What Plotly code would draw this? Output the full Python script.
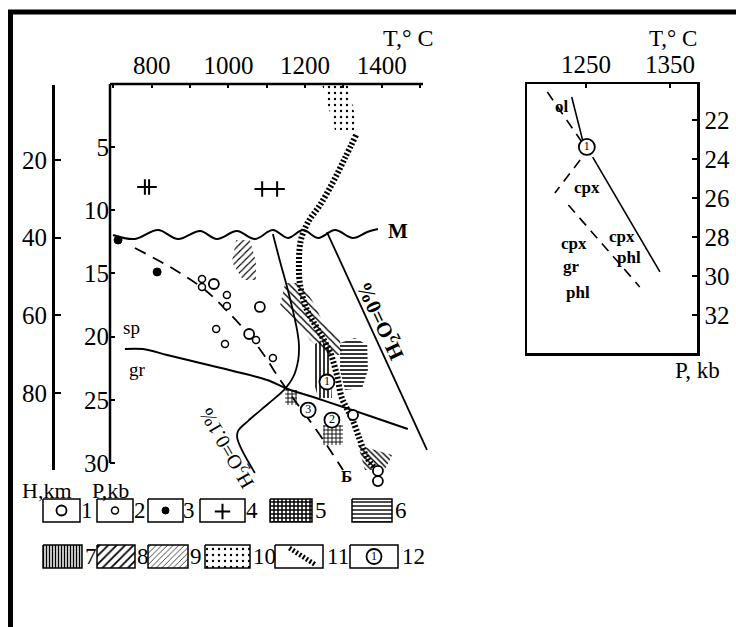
import plotly.graph_objects as go

W, H = 736, 627
SERIF = "Liberation Serif, Times New Roman, serif"

# ---------------- data: main T-P diagram ----------------
T_ticks = [700, 800, 900, 1000, 1100, 1200, 1300, 1400, 1500]
T_tick_text = ["", "800", "", "1000", "", "1200", "", "1400", ""]
P_ticks = [5, 10, 15, 20, 25, 30]
H_ticks = [0.7, 20, 40, 60, 80, 99.8]
H_tick_text = ["", "20", "40", "60", "80", ""]

moho_T = [699, 756, 816, 869, 926, 970, 1022, 1069, 1116, 1155, 1195, 1234, 1278, 1325, 1362, 1390]
moho_P = [11.95, 12.27, 11.56, 12.27, 11.64, 12.27, 11.64, 12.27, 11.56, 12.19, 11.56, 12.19, 11.56, 12.19, 11.72, 11.48]

spgr_T = [730, 777, 840, 926, 1012, 1101, 1155, 1221, 1299, 1369, 1468]
spgr_P = [20.98, 20.98, 21.45, 22.09, 22.72, 23.43, 24.14, 24.78, 25.57, 26.28, 27.31]

h2o01_T = [1116, 1135, 1155, 1179, 1184, 1182, 1169, 1145, 1103, 1051, 1025, 1023, 1035, 1069]
h2o01_P = [11.87, 14.09, 16.31, 19.47, 20.66, 21.85, 23.19, 24.22, 25.33, 26.68, 27.47, 28.02, 28.97, 30.79]

h2o0_T = [1257, 1518]
h2o0_P = [11.72, 28.97]

dash_T = [756, 861, 939, 999, 1056, 1098, 1135, 1176, 1226, 1265, 1299]
dash_P = [12.98, 14.72, 16.31, 18.05, 19.95, 21.69, 23.43, 25.17, 27.23, 28.97, 30.56]

band_T = [1333, 1304, 1273, 1239, 1208, 1189, 1184, 1187, 1205, 1234, 1265, 1283, 1296, 1322, 1343, 1362, 1382]
band_P = [4.04, 5.86, 7.76, 9.58, 10.92, 12.35, 14.09, 15.91, 17.89, 19.47, 21.22, 23.04, 24.86, 26.44, 28.18, 29.61, 30.40]

reg10_T = [1244, 1312, 1338, 1278]
reg10_P = [0.0, 0.0, 3.64, 3.64]
reg9_T = [1020, 1056, 1072, 1072, 1038, 1009]
reg9_P = [12.35, 12.35, 14.09, 15.52, 15.52, 14.09]
reg8_T = [1148, 1187, 1218, 1244, 1291, 1296, 1260, 1213, 1174, 1135]
reg8_P = [15.75, 15.75, 17.10, 18.68, 20.26, 21.45, 21.45, 20.26, 18.68, 17.49]
reg8b_T = [1338, 1427, 1408, 1356]
reg8b_P = [28.58, 29.37, 30.56, 30.56]
reg7_T = [1221, 1244, 1265, 1270, 1234, 1221]
reg7_P = [20.66, 20.26, 21.06, 24.86, 24.86, 23.43]
reg6_T = [1291, 1330, 1362, 1364, 1349, 1304, 1291]
reg6_P = [20.50, 20.11, 20.66, 22.64, 24.06, 24.22, 22.64]
reg5a_T = [1247, 1299, 1299, 1247]
reg5a_P = [26.99, 26.99, 28.58, 28.58]
reg5b_T = [1148, 1179, 1179, 1148]
reg5b_P = [24.22, 24.22, 25.41, 25.41]

pts1_T = [962, 1082, 1054, 1325, 1390, 1390]
pts1_P = [15.83, 17.65, 19.79, 26.20, 30.63, 31.43]
pts2_T = [931, 931, 996, 996, 968, 991, 1072, 1116]
pts2_P = [15.44, 16.07, 16.70, 17.57, 19.39, 20.58, 20.26, 21.69]
pts3_T = [712, 814]
pts3_P = [12.35, 14.88]
pts4_T = [782, 793, 1088, 1127]
pts4_P = [8.15, 8.15, 8.31, 8.31]
num_T = [1257, 1270, 1208]
num_P = [23.59, 26.60, 25.81]
num_lab = ["1", "2", "3"]

# ---------------- data: inset ----------------
ins_T_ticks = [1250, 1350]
ins_P_ticks = [22, 24, 26, 28, 30, 32]
ins_ol_dash_T = [1204, 1246]
ins_ol_dash_P = [20.56, 23.18]
ins_ol_solid_T = [1233, 1246]
ins_ol_solid_P = [20.82, 23.03]
ins_main_T = [1258, 1338]
ins_main_P = [23.90, 29.79]
ins_dash1_T = [1243, 1213]
ins_dash1_P = [24.05, 25.74]
ins_dash2_T = [1229, 1314]
ins_dash2_P = [26.36, 30.56]
ins_pt_T = [1251]
ins_pt_P = [23.38]
ins_lab = ["ol", "cpx", "cpx", "phl", "cpx", "gr", "phl"]
ins_lab_T = [1222, 1251, 1293, 1301, 1236, 1233, 1240]
ins_lab_P = [21.28, 25.44, 27.95, 29.03, 28.31, 29.49, 30.87]

legend_ids = ["1", "2", "3", "4", "5", "6", "7", "8", "9", "10", "11", "12"]

fig = go.Figure()

def pattern(shape, size, sol):
    return dict(shape=shape, size=size, solidity=sol, fgcolor="#000000", fgopacity=1,
                bgcolor="rgba(255,255,255,0)", fillmode="replace")

def area(T, P, shape, size, sol, xa="x", ya="y"):
    fig.add_trace(go.Scatter(x=T, y=P, mode="none", fill="toself", fillcolor="#000000",
                             fillpattern=pattern(shape, size, sol),
                             xaxis=xa, yaxis=ya, hoverinfo="skip", showlegend=False))

def curve(T, P, width=2, dash="solid", shape="spline", xa="x", ya="y", color="black"):
    fig.add_trace(go.Scatter(x=T, y=P, mode="lines", line=dict(color=color, width=width, dash=dash, shape=shape),
                             xaxis=xa, yaxis=ya, hoverinfo="skip", showlegend=False))

def marks(T, P, symbol, size, lw=1.6, fill="white", xa="x", ya="y", text=None, tsize=11):
    fig.add_trace(go.Scatter(x=T, y=P, mode="markers+text" if text else "markers",
                             marker=dict(symbol=symbol, size=size, color=fill, line=dict(color="black", width=lw)),
                             text=text, textposition="middle center",
                             textfont=dict(family=SERIF, size=tsize, color="black"),
                             xaxis=xa, yaxis=ya, hoverinfo="skip", showlegend=False, cliponaxis=False))

# regions
area(reg10_T, reg10_P, ".", 6, 0.12)
area(reg9_T, reg9_P, "/", 5, 0.22)
area(reg8_T, reg8_P, "\\", 5, 0.28)
area(reg8b_T, reg8b_P, "\\", 4, 0.35)
area(reg7_T, reg7_P, "|", 4, 0.4)
area(reg6_T, reg6_P, "-", 4, 0.4)
area(reg5a_T, reg5a_P, "+", 4, 0.4)
area(reg5b_T, reg5b_P, "+", 4, 0.4)

# lines
curve(band_T, band_P, width=6, dash="2px,2px")
curve(moho_T, moho_P, width=2)
curve(spgr_T, spgr_P, width=2)
curve(h2o01_T, h2o01_P, width=1.8)
curve(h2o0_T, h2o0_P, width=1.8, shape="linear")
curve(dash_T, dash_P, width=1.8, dash="12px,8px")

# points
marks(pts1_T, pts1_P, "circle", 10, lw=1.8)
marks(pts2_T, pts2_P, "circle", 7, lw=1.5)
marks(pts3_T, pts3_P, "circle", 8, lw=1, fill="black")
marks(pts4_T, pts4_P, "cross-thin", 11, lw=2)
marks(num_T, num_P, "circle", 15, lw=1.8, text=num_lab, tsize=12)

# H axis dummy trace
fig.add_trace(go.Scatter(x=[1000], y=[50], mode="markers", marker=dict(opacity=0),
                         xaxis="x", yaxis="y2", hoverinfo="skip", showlegend=False))

# inset
curve(ins_ol_dash_T, ins_ol_dash_P, width=1.6, dash="10px,7px", shape="linear", xa="x3", ya="y3")
curve(ins_ol_solid_T, ins_ol_solid_P, width=1.6, shape="linear", xa="x3", ya="y3")
curve(ins_main_T, ins_main_P, width=1.6, shape="linear", xa="x3", ya="y3")
curve(ins_dash1_T, ins_dash1_P, width=1.6, dash="10px,7px", shape="linear", xa="x3", ya="y3")
curve(ins_dash2_T, ins_dash2_P, width=1.6, dash="10px,7px", shape="linear", xa="x3", ya="y3")
marks(ins_pt_T, ins_pt_P, "circle", 16, lw=1.8, xa="x3", ya="y3", text=["1"], tsize=12)

ann = []
def label(text, x, y, size, xref="x", yref="y", angle=0, bold=False, xanchor="center"):
    ann.append(dict(text=f"<b>{text}</b>" if bold else text, x=x, y=y, xref=xref, yref=yref,
                    showarrow=False, textangle=angle, xanchor=xanchor, yanchor="middle",
                    font=dict(family=SERIF, size=size, color="black")))

label("M", 1442, 11.6, 21, bold=True)
label("sp", 746, 19.3, 19)
label("gr", 764, 22.6, 19)
label("Б", 1309, 31.1, 17, bold=True)
label("H<sub>2</sub>O=0.1%", 999, 28.8, 20, angle=-120)
label("H<sub>2</sub>O=0%", 1398, 18.7, 21, angle=-115, bold=True)
for t, T, P in zip(ins_lab, ins_lab_T, ins_lab_P):
    label(t, T, P, 17, xref="x3", yref="y3", bold=True)

label("T,° C", 408 / W, 1 - 38 / H, 24, xref="paper", yref="paper")
label("T,° C", 673 / W, 1 - 39 / H, 23, xref="paper", yref="paper")
label("P, kb", 697 / W, 1 - 370 / H, 23, xref="paper", yref="paper")
label("H,km", 47 / W, 1 - 490 / H, 22, xref="paper", yref="paper")
label("P,kb", 110 / W, 1 - 490 / H, 22, xref="paper", yref="paper")

shapes = []
def pline(x0, y0, x1, y1, w):
    shapes.append(dict(type="line", xref="paper", yref="paper", x0=x0 / W, y0=1 - y0 / H,
                       x1=x1 / W, y1=1 - y1 / H, line=dict(color="black", width=w)))

pline(110, 84, 423, 84, 2.5)
pline(110, 84, 110, 463, 2.5)
pline(8, 12, 736, 12, 5)
pline(10.5, 10, 10.5, 627, 5)

# legend (drawn on a pixel-unit overlay axis x4/y4)
leg_rows = {1: (499, 522), 2: (545, 568)}
leg_layout = [  # (row, x0, x1, label_x)
    (1, 43, 80, 87), (1, 97, 133, 140), (1, 148, 183, 189), (1, 200, 245, 252), (1, 270, 312, 321), (1, 352, 392, 401),
    (2, 43, 82, 91), (2, 97, 135, 143), (2, 148, 188, 196), (2, 205, 250, 264), (2, 275, 323, 338), (2, 350, 398, 413),
]
leg_fill = {"5": ("+", 4, 0.6), "6": ("-", 4, 0.35), "7": ("|", 3, 0.5), "8": ("/", 6, 0.3),
            "9": ("/", 4, 0.18), "10": (".", 6, 0.12)}
for lid, (row, x0, x1, lx) in zip(legend_ids, leg_layout):
    y0, y1 = leg_rows[row]
    bx = [x0, x1, x1, x0, x0]
    by = [y0, y0, y1, y1, y0]
    if lid in leg_fill:
        s, sz, so = leg_fill[lid]
        fig.add_trace(go.Scatter(x=bx, y=by, mode="lines", fill="toself", fillcolor="#000000",
                                 line=dict(color="black", width=1.5), fillpattern=pattern(s, sz, so),
                                 xaxis="x4", yaxis="y4", hoverinfo="skip", showlegend=False))
    else:
        curve(bx, by, width=1.5, shape="linear", xa="x4", ya="y4")
    cx, cy = (x0 + x1) / 2, (y0 + y1) / 2
    if lid == "1":
        marks([cx], [cy], "circle", 10, lw=1.8, xa="x4", ya="y4")
    elif lid == "2":
        marks([cx], [cy], "circle", 7, lw=1.5, xa="x4", ya="y4")
    elif lid == "3":
        marks([cx], [cy], "circle", 7, lw=1, fill="black", xa="x4", ya="y4")
    elif lid == "4":
        marks([cx], [cy + 1], "cross-thin", 11, lw=2, xa="x4", ya="y4")
    elif lid == "11":
        w = x1 - x0
        curve([x0 + 0.3 * w, x0 + 0.85 * w], [y0 + 3, y1 - 3], width=5, dash="2px,2px", shape="linear", xa="x4", ya="y4")
    elif lid == "12":
        marks([cx], [cy], "circle", 15, lw=1.8, xa="x4", ya="y4", text=["1"], tsize=12)
    label(lid, lx, cy, 23, xref="x4", yref="y4")

axfont = dict(family=SERIF, size=25, color="black")
fig.update_layout(
    width=W, height=H, margin=dict(l=0, r=0, t=0, b=0),
    paper_bgcolor="white", plot_bgcolor="rgba(0,0,0,0)", showlegend=False,
    annotations=ann, shapes=shapes,
    xaxis=dict(domain=[110 / W, 440 / W], range=[691, 1552], side="top", anchor="y",
               tickvals=T_ticks, ticktext=T_tick_text, ticks="inside", ticklen=4, tickwidth=2,
               tickcolor="black", showline=False, showgrid=False, zeroline=False, tickfont=axfont,
               ticklabelstandoff=4, fixedrange=True),
    yaxis=dict(domain=[1 - 500 / H, 1 - 84 / H], range=[32.93, 0], anchor="x",
               tickvals=P_ticks, ticks="inside", ticklen=5, tickwidth=2, tickcolor="black",
               showline=False, showgrid=False, zeroline=False, tickfont=axfont, fixedrange=True),
    yaxis2=dict(domain=[1 - 470 / H, 1 - 85 / H], range=[99.8, 0.7], anchor="free", position=53 / W,
                side="left", showline=True, linewidth=2.5, linecolor="black", ticks="inside",
                ticklen=6, tickwidth=2, tickcolor="black", tickvals=H_ticks, ticktext=H_tick_text,
                showgrid=False, zeroline=False, tickfont=axfont, fixedrange=True),
    xaxis3=dict(domain=[527 / W, 697 / W], range=[1179.8, 1382.1], side="top", anchor="y3",
                tickvals=ins_T_ticks, ticks="inside", ticklen=4, tickwidth=2, tickcolor="black",
                showline=True, mirror=True, linewidth=2.5, linecolor="black", showgrid=False,
                zeroline=False, tickfont=axfont, ticklabelstandoff=-1, fixedrange=True),
    yaxis3=dict(domain=[1 - 353 / H, 1 - 84 / H], range=[33.95, 20.15], side="right", anchor="x3",
                tickvals=ins_P_ticks, ticks="inside", ticklen=5, tickwidth=2, tickcolor="black",
                showline=True, mirror=True, linewidth=2.5, linecolor="black", showgrid=False,
                zeroline=False, tickfont=axfont, fixedrange=True),
    xaxis4=dict(domain=[0, 1], range=[0, W], anchor="y4", visible=False, fixedrange=True),
    yaxis4=dict(domain=[0, 1], range=[H, 0], anchor="x4", visible=False, fixedrange=True),
)

fig.write_html("out.html", config={"displayModeBar": False, "staticPlot": True},
               post_script="document.body.style.margin='0px';")
